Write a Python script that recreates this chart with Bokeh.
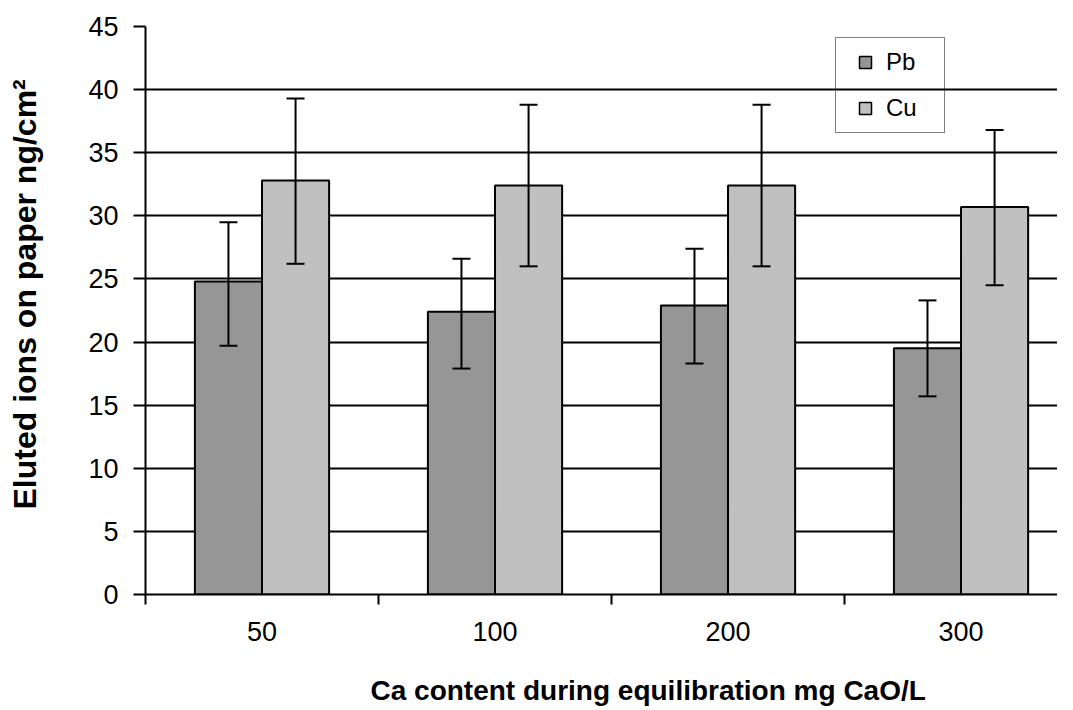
from bokeh.plotting import figure
from bokeh.models import (Range1d, FixedTicker, Whisker, ColumnDataSource, Legend,
                          LegendItem, TeeHead, Title)
from bokeh.embed import file_html
from bokeh.resources import INLINE

# ---- data ----
categories = ["50", "100", "200", "300"]
series = ["Pb", "Cu"]
pb_values = [24.8, 22.4, 22.9, 19.5]
pb_upper = [29.5, 26.6, 27.4, 23.3]
pb_lower = [19.7, 17.9, 18.3, 15.7]
cu_values = [32.8, 32.4, 32.4, 30.7]
cu_upper = [39.3, 38.8, 38.8, 36.8]
cu_lower = [26.2, 26.0, 26.0, 24.5]
y_ticks = [0, 5, 10, 15, 20, 25, 30, 35, 40, 45]
colors = ["#969696", "#c0c0c0"]

x_title = "Ca content during equilibration   mg CaO/L"
y_title = "Eluted ions on paper ng/cm\u00b2"

FONT = "Liberation Sans"
bar_w = 0.288
n = len(categories)
centers = [i + 0.5 for i in range(n)]
pb_x = [c - bar_w / 2 for c in centers]
cu_x = [c + bar_w / 2 for c in centers]

p = figure(width=1057, height=707, output_backend="svg", toolbar_location=None,
           x_range=Range1d(0, 3.914), y_range=Range1d(0, 45),
           min_border_left=145, min_border_top=26, min_border_right=0,
           min_border_bottom=109)
p.outline_line_color = None
p.background_fill_color = "white"
p.border_fill_color = "white"

src_pb = ColumnDataSource(dict(x=pb_x, top=pb_values, up=pb_upper, lo=pb_lower))
src_cu = ColumnDataSource(dict(x=cu_x, top=cu_values, up=cu_upper, lo=cu_lower))

p.vbar(x="x", top="top", bottom=0, width=bar_w, source=src_pb,
       fill_color=colors[0], line_color="black", line_width=2)
p.vbar(x="x", top="top", bottom=0, width=bar_w, source=src_cu,
       fill_color=colors[1], line_color="black", line_width=2)

for src in (src_pb, src_cu):
    w = Whisker(base="x", upper="up", lower="lo", source=src,
                line_color="black", line_width=2, level="overlay",
                upper_head=TeeHead(size=18, line_color="black", line_width=2),
                lower_head=TeeHead(size=18, line_color="black", line_width=2))
    p.add_layout(w)

# legend via square markers (size 0 on the plot, legend glyph sized by the legend)
r1 = p.scatter(x="x", y="top", source=src_pb, marker="square", size=0,
               fill_color=colors[0], line_color="black", line_width=1.5)
r2 = p.scatter(x="x", y="top", source=src_cu, marker="square", size=0,
               fill_color=colors[1], line_color="black", line_width=1.5)
legend = Legend(items=[LegendItem(label=series[0], renderers=[r1]),
                       LegendItem(label=series[1], renderers=[r2])],
                location=(690, 461), padding=9, spacing=16, glyph_width=40,
                glyph_height=30, label_standoff=1, label_width=49, label_height=30,
                label_text_font=FONT, label_text_font_size="24px",
                label_text_color="black", border_line_color="black",
                border_line_width=1.5, background_fill_alpha=0, margin=0)
p.add_layout(legend, "center")

# grid
p.xgrid.grid_line_color = None
p.ygrid.ticker = FixedTicker(ticks=y_ticks)
p.ygrid.grid_line_color = "black"
p.ygrid.grid_line_width = 2

# y axis
ya = p.yaxis[0]
ya.ticker = FixedTicker(ticks=y_ticks)
ya.axis_line_color = "black"
ya.axis_line_width = 2
ya.major_tick_line_color = "black"
ya.major_tick_line_width = 2
ya.major_tick_in = 0
ya.major_tick_out = 12
ya.minor_tick_line_color = None
ya.major_label_text_font = FONT
ya.major_label_text_font_size = "27px"
ya.major_label_text_color = "black"
ya.major_label_standoff = 15

# x axis
xa = p.xaxis[0]
xa.ticker = FixedTicker(ticks=centers, minor_ticks=list(range(n + 1)))
xa.major_label_overrides = {c: lab for c, lab in zip(centers, categories)}
xa.axis_line_color = "black"
xa.axis_line_width = 2
xa.major_tick_in = 0
xa.major_tick_out = 0
xa.major_tick_line_color = None
xa.minor_tick_in = 0
xa.minor_tick_out = 10
xa.minor_tick_line_color = "black"
xa.minor_tick_line_width = 2
xa.major_label_text_font = FONT
xa.major_label_text_font_size = "27px"
xa.major_label_text_color = "black"
xa.major_label_standoff = 17

# axis titles as panel titles, shifted with padding (left, right, top, bottom)
tx = Title(text=x_title, align="left", offset=225, vertical_align="top",
           text_font=FONT, text_font_style="bold", text_font_size="28px",
           text_color="black", standoff=0, padding=(0, 0, 31, 0))
p.add_layout(tx, "below")
ty = Title(text=y_title, align="left", offset=85, vertical_align="bottom",
           text_font=FONT, text_font_style="bold", text_font_size="32px",
           text_color="black", standoff=0, padding=(0, 0, 0, 43))
p.add_layout(ty, "left")

open("out.html", "w").write(file_html(p, INLINE))
